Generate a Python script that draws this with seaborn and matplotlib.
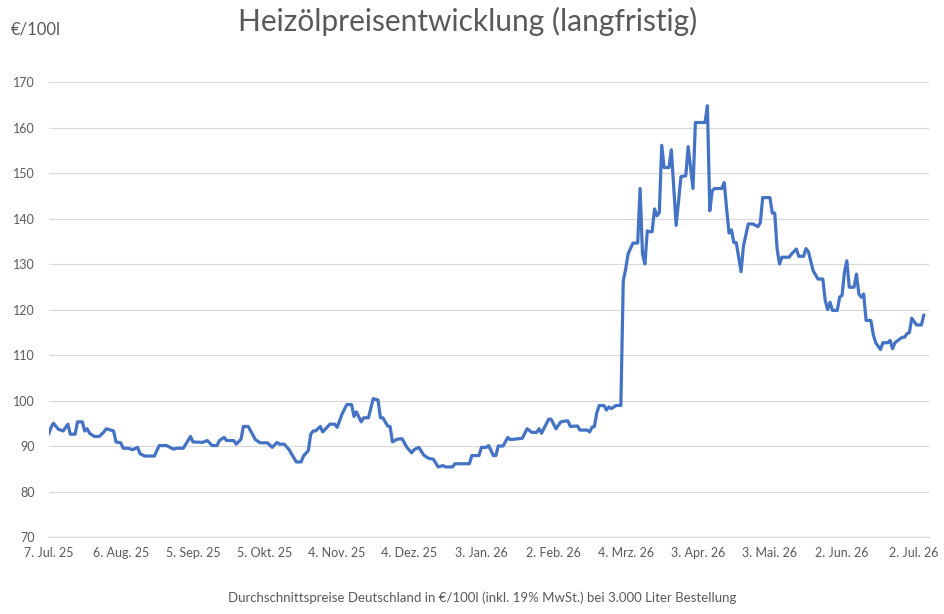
import matplotlib
matplotlib.use("Agg")
import matplotlib.pyplot as plt
import seaborn as sns
import pandas as pd

# Tage seit dem 7. Jul. 25 und Heizölpreis in €/100l
start = pd.Timestamp("2025-07-07")
days = [0, 1, 2, 4, 6, 8, 9, 11, 12, 14, 15, 16, 17, 19, 21, 23, 24, 27, 28, 30,
        31, 33, 35, 37, 38, 40, 44, 45, 46, 49, 52, 53, 56, 59, 60, 64, 66, 68, 70, 71,
        73, 74, 77, 78, 80, 81, 83, 86, 88, 91, 93, 95, 96, 98, 100, 101, 103, 105, 106, 108,
        109, 110, 111, 113, 114, 117, 119, 120, 122, 124, 126, 127, 128, 130, 131, 133, 135, 137, 138, 139,
        141, 142, 143, 145, 147, 149, 151, 152, 154, 156, 158, 160, 162, 164, 165, 168, 169, 175, 176, 179,
        180, 182, 183, 185, 186, 187, 189, 191, 192, 197, 199, 201, 203, 204, 205, 208, 209, 211, 213, 215,
        216, 217, 220, 221, 224, 225, 226, 227, 228, 229, 231, 232, 233, 234, 236, 238, 239, 240, 241, 243,
        245, 246, 247, 248, 249, 250, 251, 252, 253, 254, 255, 256, 258, 259, 261, 263, 265, 266, 268, 269,
        273, 274, 275, 276, 277, 280, 281, 282, 283, 284, 285, 286, 288, 289, 291, 293, 295, 296, 297, 300,
        301, 302, 303, 304, 305, 308, 309, 311, 312, 314, 315, 316, 318, 320, 322, 323, 324, 325, 326, 328,
        329, 330, 331, 332, 333, 335, 336, 337, 338, 339, 340, 342, 343, 344, 346, 347, 349, 350, 351, 352,
        355, 356, 357, 358, 359, 361, 363, 364]
prices = [92.6, 94.1, 95.0, 93.7, 93.3, 94.8, 92.6, 92.6, 95.3, 95.3, 93.3, 93.8, 92.8, 92.1, 92.1, 93.1, 93.8, 93.3, 90.9, 90.7,
          89.5, 89.5, 89.2, 89.7, 88.3, 87.8, 87.8, 89.0, 90.1, 90.1, 89.3, 89.5, 89.5, 92.1, 90.9, 90.8, 91.2, 90.1, 90.1, 91.2,
          91.9, 91.2, 91.2, 90.4, 91.5, 94.3, 94.3, 91.4, 90.7, 90.7, 89.7, 90.8, 90.4, 90.4, 89.2, 88.3, 86.5, 86.5, 87.8, 89.0,
          92.6, 93.3, 93.3, 94.3, 93.1, 94.8, 94.8, 94.1, 97.0, 99.1, 99.1, 96.5, 97.5, 95.3, 96.2, 96.2, 100.4, 100.1, 96.2, 96.2,
          94.4, 94.3, 90.9, 91.5, 91.6, 89.7, 88.5, 89.2, 89.7, 88.0, 87.3, 87.1, 85.4, 85.7, 85.4, 85.4, 86.1, 86.1, 87.9, 87.9,
          89.7, 89.7, 90.1, 87.9, 87.9, 90.0, 90.0, 91.9, 91.4, 91.7, 93.8, 93.0, 93.0, 93.8, 92.8, 95.9, 95.9, 93.8, 95.3, 95.5,
          95.5, 94.3, 94.4, 93.5, 93.5, 93.1, 94.1, 94.3, 97.3, 98.9, 98.9, 97.9, 98.6, 98.2, 98.9, 98.9, 126.3, 128.9, 132.2, 134.6,
          134.6, 146.6, 132.2, 130.0, 137.3, 137.1, 137.1, 142.1, 140.6, 141.3, 156.1, 151.2, 151.2, 155.1, 138.5, 149.2, 149.4, 155.8, 146.6, 161.1,
          161.1, 164.8, 141.7, 146.1, 146.6, 146.6, 147.9, 142.1, 136.8, 137.5, 134.7, 134.7, 128.3, 134.0, 138.8, 138.8, 138.2, 139.1, 144.6, 144.6,
          141.2, 141.2, 133.3, 130.0, 131.5, 131.5, 132.2, 133.3, 131.7, 131.7, 133.4, 132.7, 128.5, 126.7, 126.7, 122.0, 120.0, 121.6, 119.8, 119.8,
          122.7, 123.1, 128.2, 130.7, 124.9, 124.9, 127.8, 123.4, 122.7, 123.4, 117.6, 117.6, 114.5, 112.7, 111.2, 112.7, 112.7, 113.2, 111.4, 112.7,
          113.9, 113.9, 114.7, 114.9, 118.1, 116.6, 116.6, 118.8]

tick_days = [0, 30, 60, 90, 120, 150, 180, 210, 240, 270, 300, 330, 360]
tick_labels = ["7. Jul. 25", "6. Aug. 25", "5. Sep. 25", "5. Okt. 25", "4. Nov. 25", "4. Dez. 25",
               "3. Jan. 26", "2. Feb. 26", "4. Mrz. 26", "3. Apr. 26", "3. Mai. 26", "2. Jun. 26", "2. Jul. 26"]
y_ticks = [70, 80, 90, 100, 110, 120, 130, 140, 150, 160, 170]

df = pd.DataFrame({"Datum": start + pd.to_timedelta(days, unit="D"), "Preis": prices})

sns.set_style("white")
plt.rcParams["font.family"] = ["Lato", "DejaVu Sans"]
text_color = "#595959"

fig = plt.figure(figsize=(9.45, 6.14), dpi=100)
ax = fig.add_axes([0.0515, 0.1254, 0.9319, 0.741])

sns.lineplot(data=df, x="Datum", y="Preis", ax=ax, color="#4472C4", linewidth=2.3)

ax.set_ylim(70, 170)
ax.set_yticks(y_ticks)
ax.set_xlim(start, start + pd.Timedelta(days=366.3))
ax.set_xticks(start + pd.to_timedelta(tick_days, unit="D"))
ax.set_xticklabels(tick_labels)
ax.grid(axis="y", color="#D9D9D9", linewidth=0.9)
ax.set_axisbelow(True)
for side in ["top", "right", "left"]:
    ax.spines[side].set_visible(False)
ax.spines["bottom"].set_color("#D9D9D9")
ax.spines["bottom"].set_linewidth(0.9)
ax.tick_params(axis="x", colors="#D9D9D9", labelcolor=text_color, labelsize=9,
               length=4, width=0.9, direction="out", pad=3)
ax.tick_params(axis="y", labelcolor=text_color, labelsize=9, length=0, pad=10)
ax.set_xlabel("")
ax.set_ylabel("")

fig.text(0.495, 0.965, "Heizölpreisentwicklung (langfristig)", ha="center", va="center",
         fontsize=21.5, color=text_color)
fig.text(0.011, 0.952, "€/100l", ha="left", va="center", fontsize=12, color=text_color)
fig.text(0.51, 0.026, "Durchschnittspreise Deutschland in €/100l (inkl. 19% MwSt.) bei 3.000 Liter Bestellung",
         ha="center", va="center", fontsize=9.5, color=text_color)

fig.savefig("out.png", dpi=100)
